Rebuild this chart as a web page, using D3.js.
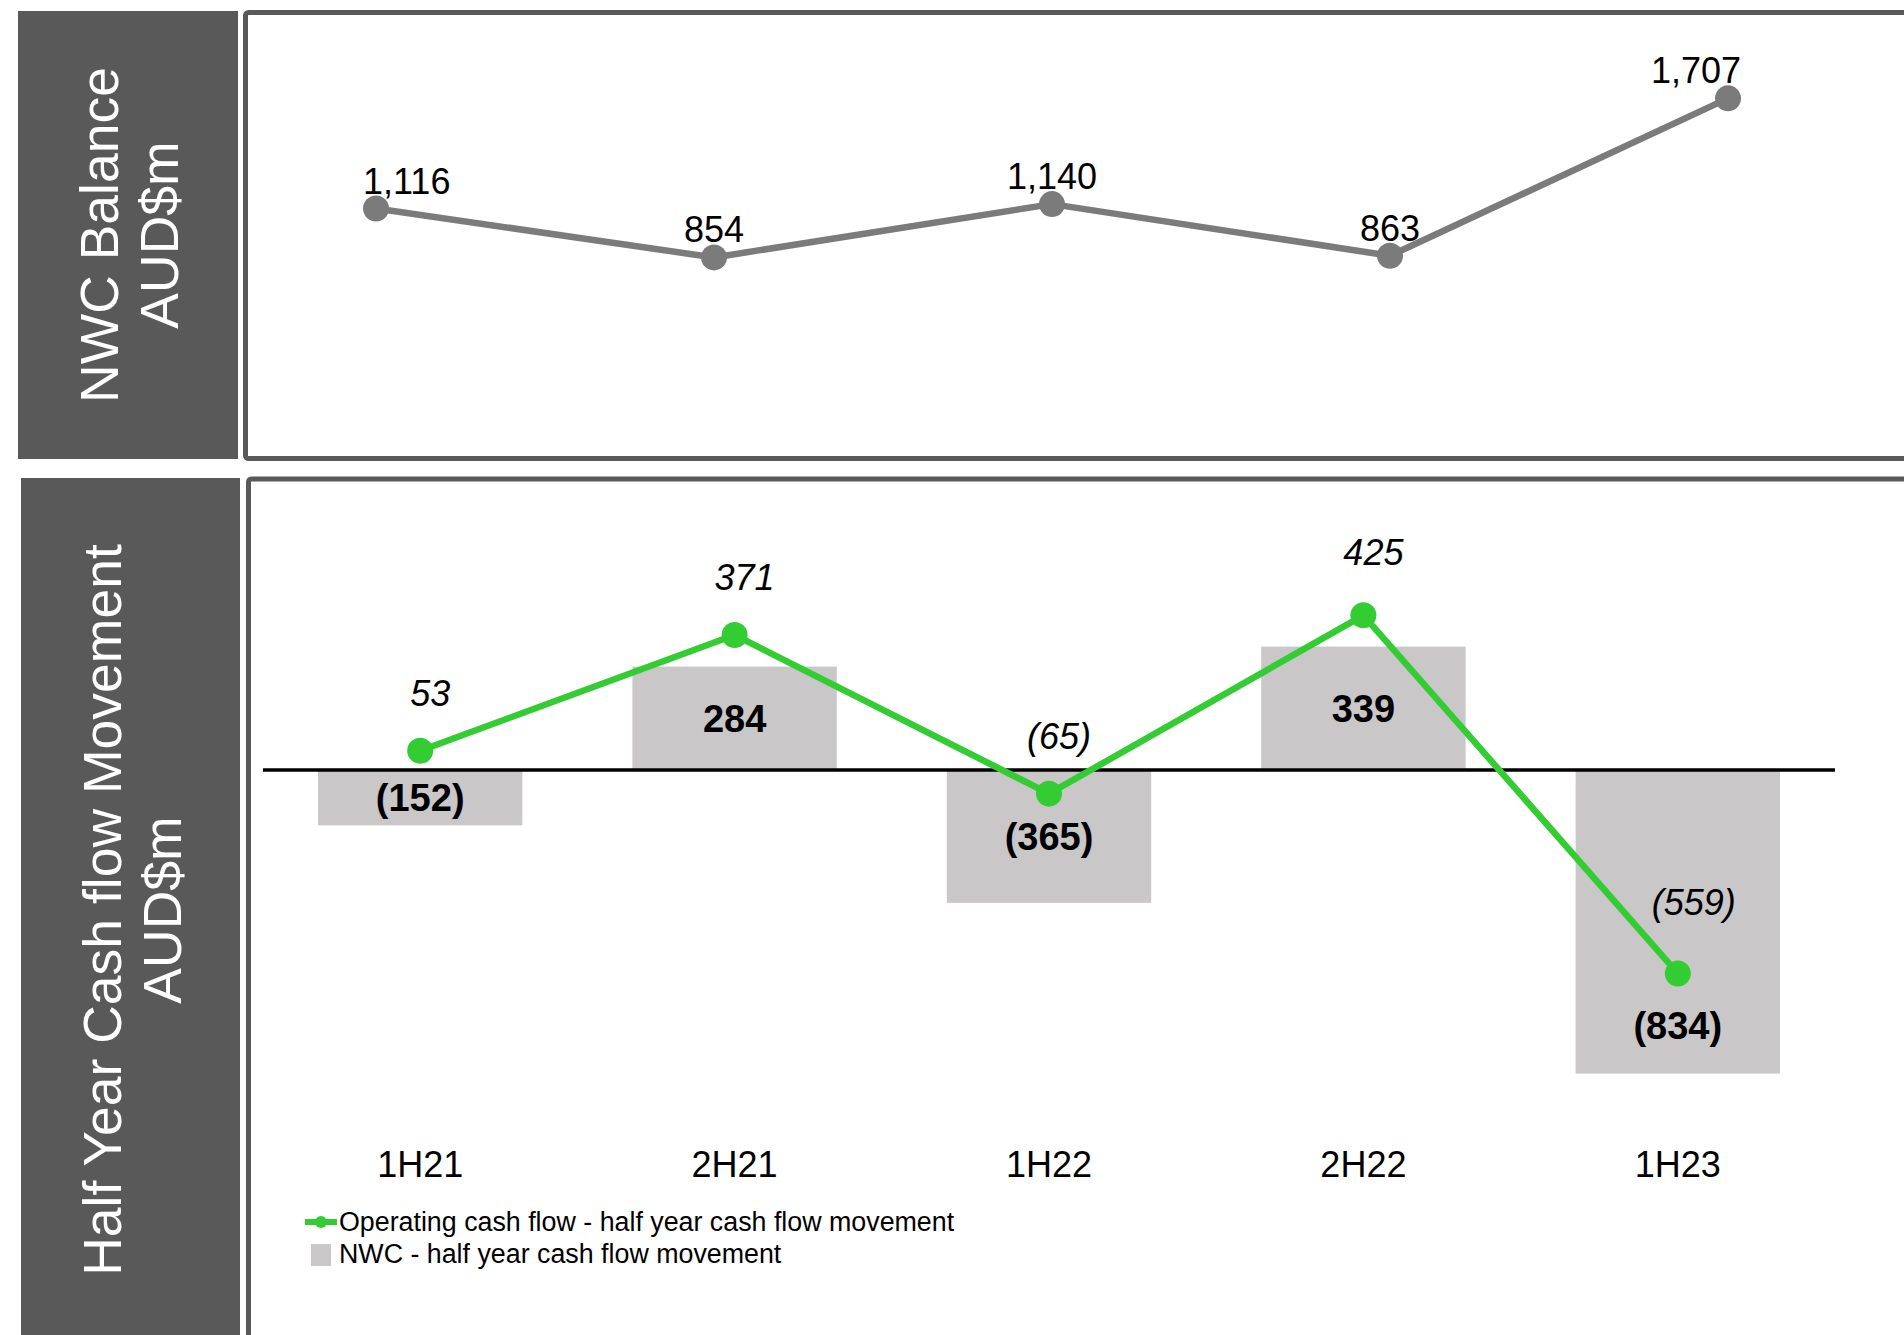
<!DOCTYPE html>
<html>
<head>
<meta charset="utf-8">
<script src="https://cdn.jsdelivr.net/npm/d3@7"></script>
<style>
  html, body { margin: 0; padding: 0; background: #ffffff; }
  svg { display: block; font-family: "Liberation Sans", Arial, sans-serif; }
</style>
</head>
<body>
<script>
// Half-year periods
const categories = ["1H21", "2H21", "1H22", "2H22", "1H23"];
// Net working capital balance, AUD$m
const nwcBalance = [1116, 854, 1140, 863, 1707];
// Operating cash flow, half-year movement, AUD$m
const operatingCashFlow = [53, 371, -65, 425, -559];
// NWC half-year cash flow movement, AUD$m
const nwcMovement = [-152, 284, -365, 339, -834];
// Panel titles (two lines each)
const topTitle = ["NWC Balance", "AUD$m"];
const bottomTitle = ["Half Year Cash flow Movement", "AUD$m"];
// Legend entries
const legendLabels = [
  "Operating cash flow - half year cash flow movement",
  "NWC - half year cash flow movement"
];

// Label layout: where each bar label sits, and how far each line label is lifted
const barLabelPlacement = ["center", "center", "center", "center", "end"];
const ocfLabelLift = [45, 45, 45, 50, 58];

const W = 1904, H = 1335;
const COL = {
  panel: "#595959",
  balance: "#7b7b7b",
  ocf: "#33cc33",
  bar: "#c9c7c8",
  text: "#000000"
};

const svg = d3.select("body").append("svg")
  .attr("width", W).attr("height", H)
  .attr("viewBox", `0 0 ${W} ${H}`);

// ---------- panel chrome ----------
function titleBlock(x, y, w, h, lines, cy) {
  svg.append("rect").attr("x", x).attr("y", y).attr("width", w).attr("height", h)
    .attr("fill", COL.panel);
  const g = svg.append("g")
    .attr("transform", `translate(${x + w / 2},${cy}) rotate(-90)`);
  g.selectAll("text").data(lines).join("text")
    .attr("x", 0)
    .attr("y", (d, i) => -10 + i * 60)
    .attr("text-anchor", "middle")
    .attr("fill", "#ffffff")
    .attr("font-size", 53.5)
    .text(d => d);
}

titleBlock(18, 11, 220, 448, topTitle, 235);
titleBlock(21, 478, 219, 864, bottomTitle, 910);

svg.append("rect").attr("x", 245.5).attr("y", 12.5).attr("width", 1720).attr("height", 446)
  .attr("rx", 3).attr("fill", "none").attr("stroke", COL.panel).attr("stroke-width", 5);
svg.append("rect").attr("x", 248.5).attr("y", 479).attr("width", 1720).attr("height", 900)
  .attr("rx", 3).attr("fill", "none").attr("stroke", COL.panel).attr("stroke-width", 5);

// ---------- top panel: NWC balance line ----------
const xTop = d3.scaleBand().domain(categories).range([207, 1897]);
const yTop = d3.scaleLinear().domain([0, 2000]).range([416.7, 43.7]);
const cxTop = d => xTop(d) + xTop.bandwidth() / 2;
const R = 13;

const topData = categories.map((c, i) => ({ c, v: nwcBalance[i], i }));

svg.append("path").datum(topData)
  .attr("fill", "none").attr("stroke", COL.balance).attr("stroke-width", 6.5)
  .attr("stroke-linejoin", "round")
  .attr("d", d3.line().x(d => cxTop(d.c)).y(d => yTop(d.v)));

svg.append("g").selectAll("circle").data(topData).join("circle")
  .attr("cx", d => cxTop(d.c)).attr("cy", d => yTop(d.v)).attr("r", R)
  .attr("fill", COL.balance);

const last = topData.length - 1;
svg.append("g").selectAll("text").data(topData).join("text")
  .attr("x", d => cxTop(d.c) + (d.i === 0 ? -R : d.i === last ? R : 0))
  .attr("y", d => yTop(d.v) - 15)
  .attr("text-anchor", d => d.i === 0 ? "start" : d.i === last ? "end" : "middle")
  .attr("font-size", 36).attr("fill", COL.text)
  .text(d => d3.format(",")(d.v));

// ---------- bottom panel: movements ----------
const xBot = d3.scaleBand().domain(categories).range([263, 1835])
  .paddingInner(0.35).paddingOuter(0.175);
const yBot = d3.scaleLinear().domain([-900, 500]).range([1097.6, 588]);
const cxBot = d => xBot(d) + xBot.bandwidth() / 2;
const paren = v => v < 0 ? `(${d3.format(",")(-v)})` : d3.format(",")(v);

const barData = categories.map((c, i) => ({ c, v: nwcMovement[i], i }));
const lineData = categories.map((c, i) => ({ c, v: operatingCashFlow[i], i }));

svg.append("g").selectAll("rect").data(barData).join("rect")
  .attr("x", d => xBot(d.c)).attr("width", xBot.bandwidth())
  .attr("y", d => Math.min(yBot(0), yBot(d.v)))
  .attr("height", d => Math.abs(yBot(d.v) - yBot(0)))
  .attr("fill", COL.bar);

// zero baseline
svg.append("line")
  .attr("x1", xBot.range()[0]).attr("x2", xBot.range()[1])
  .attr("y1", yBot(0)).attr("y2", yBot(0))
  .attr("stroke", "#000").attr("stroke-width", 3.5);

// bar value labels: centred in the bar, or set in from the bar end
svg.append("g").selectAll("text").data(barData).join("text")
  .attr("x", d => cxBot(d.c))
  .attr("y", d => {
    const end = yBot(d.v), zero = yBot(0);
    let mid = (end + zero) / 2;
    if (barLabelPlacement[d.i] === "end") mid = d.v >= 0 ? end + 48 : end - 48;
    return mid + 13.5;
  })
  .attr("text-anchor", "middle")
  .attr("font-size", 38).attr("font-weight", "bold").attr("fill", COL.text)
  .text(d => paren(d.v));

svg.append("path").datum(lineData)
  .attr("fill", "none").attr("stroke", COL.ocf).attr("stroke-width", 6.5)
  .attr("stroke-linejoin", "round")
  .attr("d", d3.line().x(d => cxBot(d.c)).y(d => yBot(d.v)));

svg.append("g").selectAll("circle").data(lineData).join("circle")
  .attr("cx", d => cxBot(d.c)).attr("cy", d => yBot(d.v)).attr("r", R)
  .attr("fill", COL.ocf);

svg.append("g").selectAll("text").data(lineData).join("text")
  .attr("x", d => cxBot(d.c) + (d.i === lineData.length - 1 ? 16 : 10))
  .attr("y", d => yBot(d.v) - ocfLabelLift[d.i])
  .attr("text-anchor", "middle")
  .attr("font-size", 36).attr("font-style", "italic").attr("fill", COL.text)
  .text(d => paren(d.v));

// category axis
const axis = svg.append("g").attr("transform", "translate(0,1177)")
  .call(d3.axisBottom(xBot).tickSize(0).tickPadding(0));
axis.select(".domain").remove();
axis.selectAll("text")
  .attr("dy", 0).attr("y", 0)
  .attr("font-size", 36).attr("fill", COL.text)
  .attr("font-family", "\"Liberation Sans\", Arial, sans-serif");

// ---------- legend ----------
const lg = svg.append("g");
lg.append("line").attr("x1", 305).attr("x2", 337).attr("y1", 1222).attr("y2", 1222)
  .attr("stroke", COL.ocf).attr("stroke-width", 6);
lg.append("circle").attr("cx", 321).attr("cy", 1222).attr("r", 6).attr("fill", COL.ocf);
lg.append("rect").attr("x", 311).attr("y", 1244).attr("width", 20).attr("height", 22)
  .attr("fill", COL.bar);
lg.selectAll("text").data(legendLabels).join("text")
  .attr("x", 339).attr("y", (d, i) => 1231 + i * 32)
  .attr("font-size", 26.8).attr("fill", COL.text)
  .text(d => d);
</script>
</body>
</html>
